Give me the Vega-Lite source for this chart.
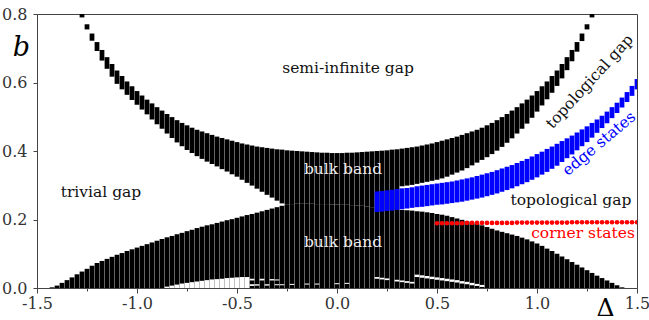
{
  "$schema": "https://vega.github.io/schema/vega-lite/v6.json",
  "width": 600,
  "height": 274,
  "autosize": {"type": "none"},
  "padding": {"left": 37, "top": 14, "right": 12, "bottom": 32},
  "background": "white",
  "config": {
    "view": {"stroke": "#444", "strokeWidth": 1},
    "axisY": {
      "labelPadding": 6,
      "labelFont": "DejaVu Serif",
      "labelFontSize": 16,
      "labelColor": "#333",
      "labelOverlap": false,
      "tickColor": "#444",
      "domainColor": "#444",
      "grid": false,
      "titleFont": "DejaVu Serif",
      "titleFontStyle": "italic",
      "titleFontWeight": "normal",
      "titleFontSize": 27,
      "titleColor": "#000",
      "titleAngle": 0,
      "titleX": -16,
      "titleY": 33,
      "titleAlign": "center",
      "titleBaseline": "middle"
    }
  },
  "datasets": {
    "bulk": [
      {"d": -1.425, "lt": 0.002}, {"d": -1.4, "lt": 0.007}, {"d": -1.375, "lt": 0.015}, {"d": -1.35, "lt": 0.023},
      {"d": -1.325, "lt": 0.031}, {"d": -1.3, "lt": 0.040},
      {"d": -1.275, "ut": 0.800, "ub": 0.790, "lt": 0.048},
      {"d": -1.25, "ut": 0.770, "ub": 0.755, "lt": 0.056},
      {"d": -1.225, "ut": 0.743, "ub": 0.722, "lt": 0.065},
      {"d": -1.2, "ut": 0.718, "ub": 0.692, "lt": 0.073},
      {"d": -1.175, "ut": 0.695, "ub": 0.664, "lt": 0.079},
      {"d": -1.15, "ut": 0.674, "ub": 0.640, "lt": 0.085},
      {"d": -1.125, "ut": 0.654, "ub": 0.617, "lt": 0.091},
      {"d": -1.1, "ut": 0.635, "ub": 0.596, "lt": 0.097},
      {"d": -1.075, "ut": 0.619, "ub": 0.580, "lt": 0.102},
      {"d": -1.05, "ut": 0.603, "ub": 0.564, "lt": 0.108},
      {"d": -1.025, "ut": 0.589, "ub": 0.549, "lt": 0.113},
      {"d": -1.0, "ut": 0.575, "ub": 0.535, "lt": 0.118},
      {"d": -0.975, "ut": 0.562, "ub": 0.521, "lt": 0.123},
      {"d": -0.95, "ut": 0.550, "ub": 0.507, "lt": 0.128},
      {"d": -0.925, "ut": 0.539, "ub": 0.492, "lt": 0.133},
      {"d": -0.9, "ut": 0.528, "ub": 0.478, "lt": 0.138},
      {"d": -0.875, "ut": 0.518, "ub": 0.465, "lt": 0.143},
      {"d": -0.85, "ut": 0.508, "ub": 0.451, "lt": 0.148},
      {"d": -0.825, "ut": 0.499, "ub": 0.438, "lt": 0.152},
      {"d": -0.8, "ut": 0.490, "ub": 0.425, "lt": 0.157},
      {"d": -0.775, "ut": 0.482, "ub": 0.414, "lt": 0.161},
      {"d": -0.75, "ut": 0.475, "ub": 0.403, "lt": 0.166},
      {"d": -0.725, "ut": 0.468, "ub": 0.394, "lt": 0.170},
      {"d": -0.7, "ut": 0.462, "ub": 0.385, "lt": 0.175},
      {"d": -0.675, "ut": 0.457, "ub": 0.377, "lt": 0.179},
      {"d": -0.65, "ut": 0.452, "ub": 0.369, "lt": 0.183},
      {"d": -0.625, "ut": 0.447, "ub": 0.362, "lt": 0.186},
      {"d": -0.6, "ut": 0.442, "ub": 0.355, "lt": 0.190},
      {"d": -0.575, "ut": 0.438, "ub": 0.347, "lt": 0.194},
      {"d": -0.55, "ut": 0.434, "ub": 0.340, "lt": 0.198},
      {"d": -0.525, "ut": 0.430, "ub": 0.332, "lt": 0.201},
      {"d": -0.5, "ut": 0.426, "ub": 0.325, "lt": 0.205},
      {"d": -0.475, "ut": 0.422, "ub": 0.316, "lt": 0.209},
      {"d": -0.45, "ut": 0.419, "ub": 0.307, "lt": 0.213},
      {"d": -0.425, "ut": 0.416, "ub": 0.299, "lt": 0.216},
      {"d": -0.4, "ut": 0.413, "ub": 0.290, "lt": 0.220},
      {"d": -0.375, "ut": 0.411, "ub": 0.281, "lt": 0.224},
      {"d": -0.35, "ut": 0.409, "ub": 0.272, "lt": 0.228},
      {"d": -0.325, "ut": 0.407, "ub": 0.264, "lt": 0.232},
      {"d": -0.3, "ut": 0.405, "ub": 0.255, "lt": 0.236},
      {"d": -0.275, "ut": 0.404, "ub": 0.247, "lt": 0.240},
      {"d": -0.25, "ut": 0.402, "ub": 0.243, "lt": 0.243},
      {"d": -0.225, "ut": 0.401, "ub": 0.245, "lt": 0.245},
      {"d": -0.2, "ut": 0.400, "ub": 0.246, "lt": 0.246},
      {"d": -0.175, "ut": 0.399, "ub": 0.246, "lt": 0.246},
      {"d": -0.15, "ut": 0.398, "ub": 0.246, "lt": 0.246},
      {"d": -0.125, "ut": 0.397, "ub": 0.246, "lt": 0.246},
      {"d": -0.1, "ut": 0.396, "ub": 0.245, "lt": 0.245},
      {"d": -0.075, "ut": 0.395, "ub": 0.245, "lt": 0.245},
      {"d": -0.05, "ut": 0.395, "ub": 0.245, "lt": 0.245},
      {"d": -0.025, "ut": 0.394, "ub": 0.244, "lt": 0.244},
      {"d": 0.0, "ut": 0.394, "ub": 0.244, "lt": 0.244},
      {"d": 0.025, "ut": 0.394, "ub": 0.243, "lt": 0.243},
      {"d": 0.05, "ut": 0.395, "ub": 0.243, "lt": 0.243},
      {"d": 0.075, "ut": 0.395, "ub": 0.242, "lt": 0.242},
      {"d": 0.1, "ut": 0.396, "ub": 0.241, "lt": 0.241},
      {"d": 0.125, "ut": 0.397, "ub": 0.240, "lt": 0.240},
      {"d": 0.15, "ut": 0.398, "ub": 0.238, "lt": 0.238},
      {"d": 0.175, "ut": 0.399, "ub": 0.236, "lt": 0.236},
      {"d": 0.2, "ut": 0.400, "ub": 0.234, "lt": 0.234},
      {"d": 0.225, "ut": 0.401, "ub": 0.232, "lt": 0.232},
      {"d": 0.25, "ut": 0.402, "ub": 0.231, "lt": 0.231},
      {"d": 0.275, "ut": 0.404, "ub": 0.230, "lt": 0.230},
      {"d": 0.3, "ut": 0.405, "ub": 0.229, "lt": 0.229},
      {"d": 0.325, "ut": 0.407, "ub": 0.297, "lt": 0.228},
      {"d": 0.35, "ut": 0.409, "ub": 0.299, "lt": 0.227},
      {"d": 0.375, "ut": 0.411, "ub": 0.301, "lt": 0.226},
      {"d": 0.4, "ut": 0.413, "ub": 0.304, "lt": 0.224},
      {"d": 0.425, "ut": 0.416, "ub": 0.307, "lt": 0.223},
      {"d": 0.45, "ut": 0.419, "ub": 0.310, "lt": 0.221},
      {"d": 0.475, "ut": 0.422, "ub": 0.313, "lt": 0.219},
      {"d": 0.5, "ut": 0.426, "ub": 0.316, "lt": 0.216},
      {"d": 0.525, "ut": 0.430, "ub": 0.320, "lt": 0.214},
      {"d": 0.55, "ut": 0.434, "ub": 0.325, "lt": 0.211},
      {"d": 0.575, "ut": 0.438, "ub": 0.331, "lt": 0.207},
      {"d": 0.6, "ut": 0.442, "ub": 0.337, "lt": 0.203},
      {"d": 0.625, "ut": 0.447, "ub": 0.343, "lt": 0.199},
      {"d": 0.65, "ut": 0.452, "ub": 0.350, "lt": 0.195},
      {"d": 0.675, "ut": 0.457, "ub": 0.358, "lt": 0.191},
      {"d": 0.7, "ut": 0.462, "ub": 0.366, "lt": 0.187},
      {"d": 0.725, "ut": 0.468, "ub": 0.374, "lt": 0.183},
      {"d": 0.75, "ut": 0.475, "ub": 0.382, "lt": 0.178},
      {"d": 0.775, "ut": 0.482, "ub": 0.391, "lt": 0.173},
      {"d": 0.8, "ut": 0.490, "ub": 0.401, "lt": 0.168},
      {"d": 0.825, "ut": 0.499, "ub": 0.412, "lt": 0.164},
      {"d": 0.85, "ut": 0.508, "ub": 0.424, "lt": 0.160},
      {"d": 0.875, "ut": 0.518, "ub": 0.437, "lt": 0.156},
      {"d": 0.9, "ut": 0.528, "ub": 0.451, "lt": 0.152},
      {"d": 0.925, "ut": 0.539, "ub": 0.465, "lt": 0.147},
      {"d": 0.95, "ut": 0.550, "ub": 0.480, "lt": 0.142},
      {"d": 0.975, "ut": 0.562, "ub": 0.497, "lt": 0.136},
      {"d": 1.0, "ut": 0.575, "ub": 0.515, "lt": 0.130},
      {"d": 1.025, "ut": 0.589, "ub": 0.533, "lt": 0.123},
      {"d": 1.05, "ut": 0.603, "ub": 0.551, "lt": 0.115},
      {"d": 1.075, "ut": 0.619, "ub": 0.570, "lt": 0.108},
      {"d": 1.1, "ut": 0.635, "ub": 0.590, "lt": 0.100},
      {"d": 1.125, "ut": 0.654, "ub": 0.612, "lt": 0.092},
      {"d": 1.15, "ut": 0.674, "ub": 0.636, "lt": 0.084},
      {"d": 1.175, "ut": 0.695, "ub": 0.662, "lt": 0.076},
      {"d": 1.2, "ut": 0.718, "ub": 0.690, "lt": 0.068},
      {"d": 1.225, "ut": 0.743, "ub": 0.721, "lt": 0.060},
      {"d": 1.25, "ut": 0.770, "ub": 0.755, "lt": 0.052},
      {"d": 1.275, "ut": 0.800, "ub": 0.790, "lt": 0.044},
      {"d": 1.3, "lt": 0.036}, {"d": 1.325, "lt": 0.029}, {"d": 1.35, "lt": 0.022}, {"d": 1.375, "lt": 0.015},
      {"d": 1.4, "lt": 0.008}, {"d": 1.425, "lt": 0.002}
    ],
    "gaps": [
      {"d": -0.85, "lo": 0, "hi": 0.004}, {"d": -0.825, "lo": 0, "hi": 0.007}, {"d": -0.8, "lo": 0, "hi": 0.010},
      {"d": -0.775, "lo": 0, "hi": 0.013}, {"d": -0.75, "lo": 0, "hi": 0.015}, {"d": -0.725, "lo": 0, "hi": 0.017},
      {"d": -0.7, "lo": 0, "hi": 0.019}, {"d": -0.675, "lo": 0, "hi": 0.021}, {"d": -0.65, "lo": 0, "hi": 0.023},
      {"d": -0.625, "lo": 0, "hi": 0.025}, {"d": -0.6, "lo": 0, "hi": 0.026}, {"d": -0.575, "lo": 0, "hi": 0.027},
      {"d": -0.55, "lo": 0, "hi": 0.029}, {"d": -0.525, "lo": 0, "hi": 0.030}, {"d": -0.5, "lo": 0, "hi": 0.031},
      {"d": -0.475, "lo": 0, "hi": 0.032}, {"d": -0.45, "lo": 0, "hi": 0.032},
      {"d": -0.425, "lo": 0.022, "hi": 0.027}, {"d": -0.375, "lo": 0.022, "hi": 0.027},
      {"d": -0.325, "lo": 0.022, "hi": 0.026}, {"d": -0.3, "lo": 0.022, "hi": 0.025},
      {"d": -0.425, "lo": 0.006, "hi": 0.011}, {"d": -0.4, "lo": 0.007, "hi": 0.011},
      {"d": -0.35, "lo": 0.007, "hi": 0.011}, {"d": -0.3, "lo": 0.008, "hi": 0.011},
      {"d": -0.275, "lo": 0.008, "hi": 0.011}, {"d": -0.225, "lo": 0.009, "hi": 0.012},
      {"d": -0.15, "lo": 0.010, "hi": 0.013}, {"d": -0.1, "lo": 0.010, "hi": 0.013},
      {"d": 0.0, "lo": 0.011, "hi": 0.014}, {"d": 0.05, "lo": 0.012, "hi": 0.015},
      {"d": 0.2, "lo": 0.027, "hi": 0.032}, {"d": 0.225, "lo": 0.025, "hi": 0.030}, {"d": 0.25, "lo": 0.023, "hi": 0.028},
      {"d": 0.3, "lo": 0.019, "hi": 0.024}, {"d": 0.325, "lo": 0.017, "hi": 0.022},
      {"d": 0.35, "lo": 0.015, "hi": 0.020}, {"d": 0.375, "lo": 0.013, "hi": 0.018},
      {"d": 0.4, "lo": 0.032, "hi": 0.039}, {"d": 0.425, "lo": 0.030, "hi": 0.037}, {"d": 0.45, "lo": 0.028, "hi": 0.035},
      {"d": 0.475, "lo": 0.026, "hi": 0.033}, {"d": 0.5, "lo": 0.024, "hi": 0.031}, {"d": 0.525, "lo": 0.022, "hi": 0.029},
      {"d": 0.55, "lo": 0.020, "hi": 0.027}, {"d": 0.575, "lo": 0.018, "hi": 0.025}, {"d": 0.6, "lo": 0.016, "hi": 0.023},
      {"d": 0.625, "lo": 0.013, "hi": 0.020}, {"d": 0.65, "lo": 0.011, "hi": 0.018}, {"d": 0.675, "lo": 0.008, "hi": 0.015},
      {"d": 0.7, "lo": 0.006, "hi": 0.012}, {"d": 0.725, "lo": 0.003, "hi": 0.009}
    ],
    "edge": [
      {"d": 0.2, "lo": 0.222, "hi": 0.282}, {"d": 0.225, "lo": 0.223, "hi": 0.283}, {"d": 0.25, "lo": 0.225, "hi": 0.285},
      {"d": 0.275, "lo": 0.226, "hi": 0.287}, {"d": 0.3, "lo": 0.228, "hi": 0.289}, {"d": 0.325, "lo": 0.230, "hi": 0.291},
      {"d": 0.35, "lo": 0.232, "hi": 0.292}, {"d": 0.375, "lo": 0.234, "hi": 0.294}, {"d": 0.4, "lo": 0.236, "hi": 0.297},
      {"d": 0.425, "lo": 0.237, "hi": 0.299}, {"d": 0.45, "lo": 0.239, "hi": 0.301}, {"d": 0.475, "lo": 0.241, "hi": 0.303},
      {"d": 0.5, "lo": 0.243, "hi": 0.305}, {"d": 0.525, "lo": 0.244, "hi": 0.307}, {"d": 0.55, "lo": 0.246, "hi": 0.309},
      {"d": 0.575, "lo": 0.248, "hi": 0.311}, {"d": 0.6, "lo": 0.250, "hi": 0.314}, {"d": 0.625, "lo": 0.252, "hi": 0.317},
      {"d": 0.65, "lo": 0.255, "hi": 0.320}, {"d": 0.675, "lo": 0.258, "hi": 0.323}, {"d": 0.7, "lo": 0.261, "hi": 0.327},
      {"d": 0.725, "lo": 0.264, "hi": 0.331}, {"d": 0.75, "lo": 0.268, "hi": 0.335}, {"d": 0.775, "lo": 0.272, "hi": 0.339},
      {"d": 0.8, "lo": 0.276, "hi": 0.344}, {"d": 0.825, "lo": 0.281, "hi": 0.349}, {"d": 0.85, "lo": 0.286, "hi": 0.354},
      {"d": 0.875, "lo": 0.291, "hi": 0.359}, {"d": 0.9, "lo": 0.297, "hi": 0.365}, {"d": 0.925, "lo": 0.303, "hi": 0.371},
      {"d": 0.95, "lo": 0.309, "hi": 0.377}, {"d": 0.975, "lo": 0.316, "hi": 0.384}, {"d": 1.0, "lo": 0.323, "hi": 0.391},
      {"d": 1.025, "lo": 0.331, "hi": 0.398}, {"d": 1.05, "lo": 0.339, "hi": 0.406}, {"d": 1.075, "lo": 0.348, "hi": 0.413},
      {"d": 1.1, "lo": 0.357, "hi": 0.421}, {"d": 1.125, "lo": 0.368, "hi": 0.429}, {"d": 1.15, "lo": 0.379, "hi": 0.437},
      {"d": 1.175, "lo": 0.390, "hi": 0.445}, {"d": 1.2, "lo": 0.402, "hi": 0.454}, {"d": 1.225, "lo": 0.414, "hi": 0.463},
      {"d": 1.25, "lo": 0.426, "hi": 0.472}, {"d": 1.275, "lo": 0.439, "hi": 0.482}, {"d": 1.3, "lo": 0.453, "hi": 0.492},
      {"d": 1.325, "lo": 0.467, "hi": 0.503}, {"d": 1.35, "lo": 0.481, "hi": 0.515}, {"d": 1.375, "lo": 0.496, "hi": 0.528},
      {"d": 1.4, "lo": 0.511, "hi": 0.541}, {"d": 1.425, "lo": 0.527, "hi": 0.556}, {"d": 1.45, "lo": 0.543, "hi": 0.572},
      {"d": 1.475, "lo": 0.561, "hi": 0.590}, {"d": 1.5, "lo": 0.580, "hi": 0.610}
    ],
    "corner": [
      {"d": 0.5, "b": 0.189}, {"d": 0.525, "b": 0.189}, {"d": 0.55, "b": 0.189}, {"d": 0.575, "b": 0.189},
      {"d": 0.6, "b": 0.189}, {"d": 0.625, "b": 0.189}, {"d": 0.65, "b": 0.190}, {"d": 0.675, "b": 0.190},
      {"d": 0.7, "b": 0.190}, {"d": 0.725, "b": 0.190}, {"d": 0.75, "b": 0.190}, {"d": 0.775, "b": 0.190},
      {"d": 0.8, "b": 0.190}, {"d": 0.825, "b": 0.190}, {"d": 0.85, "b": 0.190}, {"d": 0.875, "b": 0.190},
      {"d": 0.9, "b": 0.191}, {"d": 0.925, "b": 0.191}, {"d": 0.95, "b": 0.191}, {"d": 0.975, "b": 0.191},
      {"d": 1.0, "b": 0.191}, {"d": 1.025, "b": 0.191}, {"d": 1.05, "b": 0.191}, {"d": 1.075, "b": 0.191},
      {"d": 1.1, "b": 0.191}, {"d": 1.125, "b": 0.191}, {"d": 1.15, "b": 0.191}, {"d": 1.175, "b": 0.192},
      {"d": 1.2, "b": 0.192}, {"d": 1.225, "b": 0.192}, {"d": 1.25, "b": 0.192}, {"d": 1.275, "b": 0.192},
      {"d": 1.3, "b": 0.192}, {"d": 1.325, "b": 0.192}, {"d": 1.35, "b": 0.192}, {"d": 1.375, "b": 0.192},
      {"d": 1.4, "b": 0.192}, {"d": 1.425, "b": 0.192}, {"d": 1.45, "b": 0.192}, {"d": 1.475, "b": 0.192},
      {"d": 1.5, "b": 0.192}
    ],
    "labels": [
      {"d": 0.055, "b": 0.642, "text": "semi-infinite gap", "kind": "black"},
      {"d": -1.18, "b": 0.280, "text": "trivial gap", "kind": "black"},
      {"d": 1.17, "b": 0.257, "text": "topological gap", "kind": "black"},
      {"d": 0.03, "b": 0.347, "text": "bulk band", "kind": "white"},
      {"d": 0.03, "b": 0.134, "text": "bulk band", "kind": "white"},
      {"d": 1.23, "b": 0.161, "text": "corner states", "kind": "red"},
      {"d": 1.2625, "b": 0.603, "text": "topological gap", "kind": "rot"},
      {"d": 1.31, "b": 0.422, "text": "edge states", "kind": "blue"}
    ]
  },
  "encoding": {
    "x": {
      "field": "d",
      "type": "quantitative",
      "scale": {"domain": [-1.5, 1.5], "nice": false, "zero": false},
      "axis": {
        "values": [-1.5, -1.25, -1, -0.75, -0.5, -0.25, 0, 0.25, 0.5, 0.75, 1, 1.25, 1.5],
        "labelExpr": "abs(round(datum.value*4)%2) != 0 ? '' : (datum.value < 0 ? '-' + format(-datum.value, '.1f') : format(datum.value, '.1f'))",
        "tickSize": {"condition": {"test": "abs(round(datum.value*4)%2) != 0", "value": 3}, "value": 5},
        "labelPadding": 2,
        "labelFont": "DejaVu Serif",
        "labelFontSize": 16,
        "labelColor": "#333",
        "labelFlush": false,
        "labelOverlap": false,
        "tickColor": "#444",
        "domainColor": "#444",
        "grid": false,
        "title": "Δ",
        "titleFont": "DejaVu Serif",
        "titleFontSize": 25,
        "titleFontWeight": "normal",
        "titleColor": "#000",
        "titleX": 568,
        "titleY": 27,
        "titleAlign": "center",
        "titleBaseline": "alphabetic"
      }
    }
  },
  "layer": [
    {
      "data": {"name": "bulk"},
      "mark": {"type": "rule", "color": "black", "strokeWidth": 4.75, "clip": true},
      "encoding": {
        "y": {
          "field": "lt",
          "type": "quantitative",
          "title": "b",
          "scale": {"domain": [0, 0.8], "nice": false, "zero": false},
          "axis": {
            "values": [0, 0.05, 0.1, 0.15, 0.2, 0.25, 0.3, 0.35, 0.4, 0.45, 0.5, 0.55, 0.6, 0.65, 0.7, 0.75, 0.8],
            "labelExpr": "abs(round(datum.value*20)%4) != 0 ? '' : format(datum.value, '.1f')",
            "tickSize": {"condition": {"test": "abs(round(datum.value*20)%4) != 0", "value": 2}, "value": 4},
            "title": "b"
          }
        },
        "y2": {"datum": 0}
      }
    },
    {
      "data": {"name": "bulk"},
      "transform": [{"filter": "isValid(datum.ut)"}],
      "mark": {"type": "rule", "color": "black", "strokeWidth": 4.75, "clip": true},
      "encoding": {
        "y": {"field": "ub", "type": "quantitative", "title": "b", "scale": {"domain": [0, 0.8], "nice": false, "zero": false}},
        "y2": {"field": "ut"}
      }
    },
    {
      "data": {"name": "gaps"},
      "mark": {"type": "rule", "color": "white", "strokeWidth": 4.75, "clip": true},
      "encoding": {
        "y": {"field": "lo", "type": "quantitative", "title": "b", "scale": {"domain": [0, 0.8], "nice": false, "zero": false}},
        "y2": {"field": "hi"}
      }
    },
    {
      "data": {"name": "edge"},
      "mark": {"type": "rule", "color": "#0000ff", "strokeWidth": 4.75, "clip": true},
      "encoding": {
        "y": {"field": "lo", "type": "quantitative", "title": "b", "scale": {"domain": [0, 0.8], "nice": false, "zero": false}},
        "y2": {"field": "hi"}
      }
    },
    {
      "data": {"name": "corner"},
      "mark": {"type": "point", "filled": true, "shape": "circle", "size": 22, "color": "#ff0000", "opacity": 1, "clip": true},
      "encoding": {
        "y": {"field": "b", "type": "quantitative", "title": "b", "scale": {"domain": [0, 0.8], "nice": false, "zero": false}}
      }
    },
    {
      "data": {"name": "labels"},
      "transform": [{"filter": "datum.kind == 'black'"}],
      "mark": {"type": "text", "font": "DejaVu Serif", "fontSize": 15.5, "color": "#111", "align": "center", "baseline": "middle"},
      "encoding": {
        "y": {"field": "b", "type": "quantitative", "title": "b", "scale": {"domain": [0, 0.8], "nice": false, "zero": false}},
        "text": {"field": "text"}
      }
    },
    {
      "data": {"name": "labels"},
      "transform": [{"filter": "datum.kind == 'white'"}],
      "mark": {"type": "text", "font": "DejaVu Serif", "fontSize": 15.5, "color": "#eeeeee", "align": "center", "baseline": "middle"},
      "encoding": {
        "y": {"field": "b", "type": "quantitative", "title": "b", "scale": {"domain": [0, 0.8], "nice": false, "zero": false}},
        "text": {"field": "text"}
      }
    },
    {
      "data": {"name": "labels"},
      "transform": [{"filter": "datum.kind == 'red'"}],
      "mark": {"type": "text", "font": "DejaVu Serif", "fontSize": 15.5, "color": "#ff0000", "align": "center", "baseline": "middle"},
      "encoding": {
        "y": {"field": "b", "type": "quantitative", "title": "b", "scale": {"domain": [0, 0.8], "nice": false, "zero": false}},
        "text": {"field": "text"}
      }
    },
    {
      "data": {"name": "labels"},
      "transform": [{"filter": "datum.kind == 'rot'"}],
      "mark": {"type": "text", "font": "DejaVu Serif", "fontSize": 15.5, "color": "#111", "align": "center", "baseline": "middle", "angle": 312.4},
      "encoding": {
        "y": {"field": "b", "type": "quantitative", "title": "b", "scale": {"domain": [0, 0.8], "nice": false, "zero": false}},
        "text": {"field": "text"}
      }
    },
    {
      "data": {"name": "labels"},
      "transform": [{"filter": "datum.kind == 'blue'"}],
      "mark": {"type": "text", "font": "DejaVu Serif", "fontSize": 15.5, "color": "#0000ff", "align": "center", "baseline": "middle", "angle": 320},
      "encoding": {
        "y": {"field": "b", "type": "quantitative", "title": "b", "scale": {"domain": [0, 0.8], "nice": false, "zero": false}},
        "text": {"field": "text"}
      }
    }
  ]
}
